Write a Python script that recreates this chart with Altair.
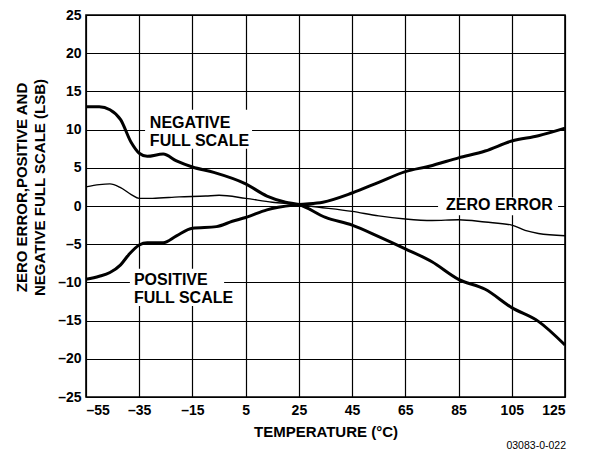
import altair as alt
import pandas as pd

# ---- data ----
neg_t = [-55, -50, -46, -42, -38, -35, -32, -26, -21, -15, -7, 5, 13, 20, 25,
         35, 45, 55, 65, 75, 85, 95, 105, 115, 125]
neg_v = [13.0, 13.0, 12.6, 11.3, 8.3, 6.9, 6.5, 6.8, 5.9, 5.1, 4.4, 2.9, 1.3, 0.5, 0.2,
         -1.5, -2.5, -4.0, -5.6, -7.3, -9.6, -10.9, -13.3, -15.1, -18.2]

pos_t = [-55, -50, -46, -42, -39, -35, -32, -26, -21, -15, -6, 0, 5, 13, 25,
         34, 45, 55, 65, 74, 85, 95, 105, 115, 125]
pos_v = [-9.6, -9.2, -8.7, -7.7, -6.4, -5.1, -4.8, -4.8, -3.9, -2.9, -2.7, -2.0, -1.5, -0.5, 0.2,
         0.5, 1.7, 3.1, 4.5, 5.2, 6.3, 7.2, 8.5, 9.2, 10.2]

zero_t = [-55, -50, -46, -42, -38, -35, -30, -20, -10, -5, 5, 15, 25,
          29, 45, 55, 65, 75, 85, 95, 105, 110, 115, 125]
zero_v = [2.5, 2.8, 2.9, 2.4, 1.5, 1.0, 1.0, 1.2, 1.3, 1.4, 1.0, 0.5, 0.2,
          0.0, -0.7, -1.3, -1.7, -1.9, -1.8, -2.1, -2.5, -3.2, -3.6, -3.9]

x_ticks = [-55, -35, -15, 5, 25, 45, 65, 85, 105, 125]
y_ticks = [-25, -20, -15, -10, -5, 0, 5, 10, 15, 20, 25]

label_text = ["NEGATIVE", "FULL SCALE", "ZERO ERROR", "POSITIVE", "FULL SCALE"]
label_t = [-31.0, -31.0, 80.3, -37.0, -37.0]
label_v = [10.9, 8.5, 0.15, -9.75, -12.0]

box_t1 = [-32.8, 77.3, -38.5]
box_t2 = [7.4, 122.4, -3.1]
box_v1 = [12.6, 1.1, -8.2]
box_v2 = [7.5, -1.2, -13.1]

FONT = "Liberation Sans"

df_neg = pd.DataFrame({"t": neg_t, "v": neg_v})
df_pos = pd.DataFrame({"t": pos_t, "v": pos_v})
df_zero = pd.DataFrame({"t": zero_t, "v": zero_v})
df_lab = pd.DataFrame({"t": label_t, "v": label_v, "txt": label_text})
df_box = pd.DataFrame({"t1": box_t1, "t2": box_t2, "v1": box_v1, "v2": box_v2})

lab_expr = "datum.value < 0 ? '\u2013' + abs(datum.value) : '' + datum.value"

xscale = alt.Scale(domain=[-55, 125], nice=False, zero=False)
yscale = alt.Scale(domain=[-25, 25], nice=False, zero=False)

xenc = alt.X("t:Q", scale=xscale,
             axis=alt.Axis(values=x_ticks, tickCount=12, title="TEMPERATURE (\u00b0C)",
                           labelExpr=lab_expr, labelPadding=6, titlePadding=7,
                           labelOverlap=False))
yenc = alt.Y("v:Q", scale=yscale,
             axis=alt.Axis(values=y_ticks, tickCount=12,
                           title=["ZERO ERROR,POSITIVE AND", "NEGATIVE FULL SCALE (LSB)"],
                           labelExpr=lab_expr, labelPadding=5, labelOverlap=False,
                           titleX=-57, titleY=172, titleLineHeight=18))

base_grid = alt.Chart(df_neg).mark_line(opacity=0).encode(x=xenc, y=yenc)

boxes = alt.Chart(df_box).mark_rect(color="white").encode(
    x=alt.X("t1:Q", scale=xscale), x2="t2",
    y=alt.Y("v1:Q", scale=yscale), y2="v2")

line_neg = alt.Chart(df_neg).mark_line(color="black", strokeWidth=3, interpolate="monotone").encode(
    x="t:Q", y="v:Q")
line_pos = alt.Chart(df_pos).mark_line(color="black", strokeWidth=3, interpolate="monotone").encode(
    x="t:Q", y="v:Q")
line_zero = alt.Chart(df_zero).mark_line(color="black", strokeWidth=1.4, interpolate="monotone").encode(
    x="t:Q", y="v:Q")

labels = alt.Chart(df_lab).mark_text(align="left", baseline="middle", font=FONT,
                                     fontWeight="bold", fontSize=16, color="black").encode(
    x=alt.X("t:Q", scale=xscale), y=alt.Y("v:Q", scale=yscale), text="txt:N")

foot = alt.Chart(df_neg.head(1)).mark_text(align="right", baseline="middle", font=FONT,
                                          fontSize=10.5, color="black").encode(
    x=alt.value(480), y=alt.value(382 + 49), text=alt.value("03083-0-022"))

chart = alt.layer(base_grid, boxes, line_zero, line_neg, line_pos, labels, foot).properties(
    width=479, height=382,
    background="white",
    autosize=alt.AutoSizeParams(type="none"),
    padding={"left": 78, "top": 7, "right": 17, "bottom": 56},
).configure_view(stroke="black", strokeWidth=1.6).configure_axis(
    domain=False, ticks=False, grid=True, gridColor="black", gridOpacity=1, gridWidth=1.2,
    labelFont=FONT, labelFontWeight="bold", labelFontSize=14, labelColor="black",
    titleFont=FONT, titleFontWeight="bold", titleFontSize=15, titleColor="black",
)

chart.save("out.html", embed_options={"renderer": "svg", "actions": False})
